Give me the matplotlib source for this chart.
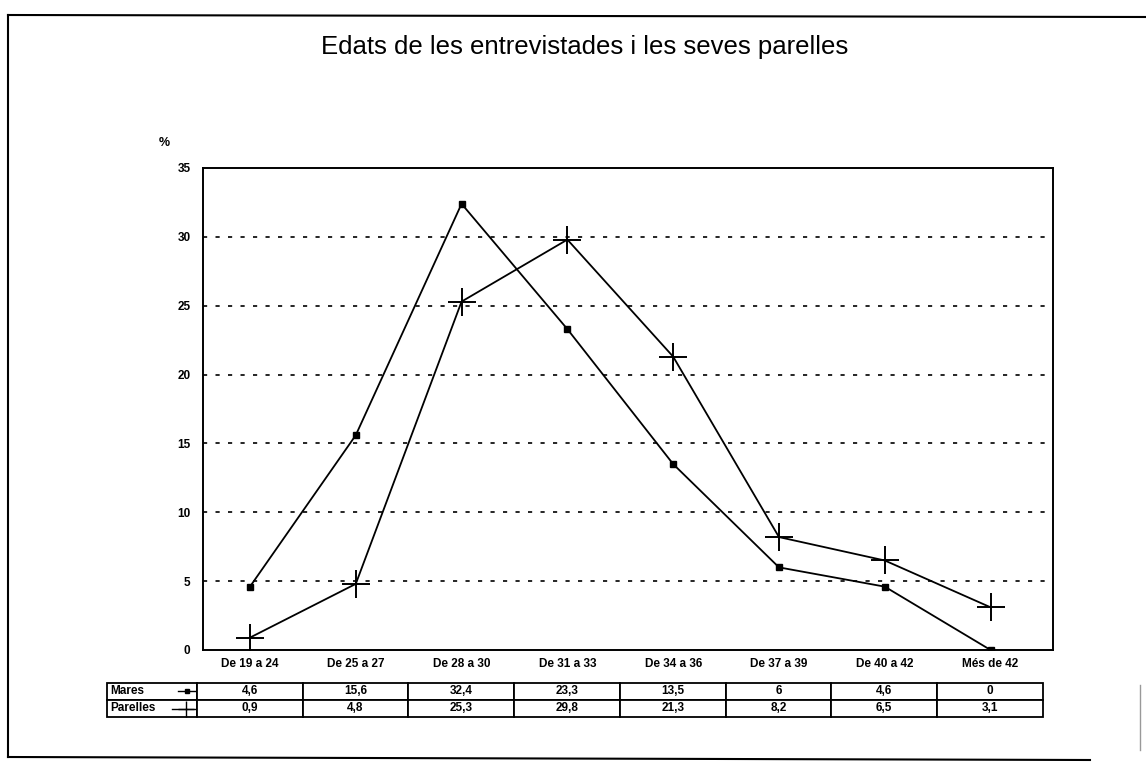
import matplotlib.pyplot as plt
import numpy as np
from matplotlib.lines import Line2D

plt.rcParams['font.family'] = ['Liberation Sans', 'DejaVu Sans']

categories = ["De 19 a 24", "De 25 a 27", "De 28 a 30", "De 31 a 33",
              "De 34 a 36", "De 37 a 39", "De 40 a 42", "Més de 42"]
mares = [4.6, 15.6, 32.4, 23.3, 13.5, 6, 4.6, 0]
parelles = [0.9, 4.8, 25.3, 29.8, 21.3, 8.2, 6.5, 3.1]
mares_txt = ["4,6", "15,6", "32,4", "23,3", "13,5", "6", "4,6", "0"]
parelles_txt = ["0,9", "4,8", "25,3", "29,8", "21,3", "8,2", "6,5", "3,1"]
yticks = [0, 5, 10, 15, 20, 25, 30, 35]

fig = plt.figure(figsize=(11.46, 7.69), dpi=100)
ax = fig.add_axes([203/1146, 1-650/769, 850/1146, 482/769])

x = np.arange(len(categories))
ax.plot(x, mares, color='black', lw=1.3, marker='s', ms=5, mfc='black')
ax.plot(x, parelles, color='black', lw=1.3, marker='+', ms=20, mew=1.4)

ax.set_xlim(-0.444, 7.59)
ax.set_ylim(0, 35)
ax.set_yticks(yticks)
ax.set_yticklabels([str(v) for v in yticks], fontsize=8.5, fontweight='bold')
ax.set_xticks(x)
ax.set_xticklabels(categories, fontsize=8.5, fontweight='bold')
ax.tick_params(length=0, pad=9)
ax.tick_params(axis='x', pad=6)
for v in yticks[1:-1]:
    ax.axhline(v, color='black', lw=1.2, ls=(0, (2.5, 5)))
for s in ax.spines.values():
    s.set_linewidth(1.4)
ax.text(-0.045, 1.045, "%", transform=ax.transAxes, fontsize=9,
        fontweight='bold', ha='center')

# data table under the chart
cell_text = [["Mares"] + mares_txt, ["Parelles"] + parelles_txt]
tbl = ax.table(cellText=cell_text, cellLoc='center',
               colWidths=[90] + [106] * len(categories),
               bbox=[-0.113, -0.139, 1.101, 0.071])
tbl.auto_set_font_size(False)
for (r, c), cell in tbl.get_celld().items():
    cell.set_linewidth(1.3)
    cell.get_text().set_fontsize(8.5)
    cell.get_text().set_fontweight('bold')
    if c == 0:
        cell.get_text().set_ha('left')
        cell._loc = 'left'
        cell.PAD = 0.04

# legend keys inside the label column
fig.lines.append(Line2D([178/1146, 195/1146], [1-691/769] * 2, color='black',
                        lw=1.0, transform=fig.transFigure))
fig.lines.append(Line2D([187/1146], [1-691/769], color='black', marker='s',
                        ms=3.5, ls='none', transform=fig.transFigure))
fig.lines.append(Line2D([172/1146, 195/1146], [1-709/769] * 2, color='black',
                        lw=1.0, transform=fig.transFigure))
fig.lines.append(Line2D([186/1146], [1-709/769], color='black', marker='+',
                        ms=12, mew=1.0, ls='none', transform=fig.transFigure))

fig.text(585/1146, 1-47/769, "Edats de les entrevistades i les seves parelles",
         fontsize=18.5, ha='center', va='center')

# scanned page frame
frame = dict(color='black', lw=1.5, transform=fig.transFigure)
fig.lines.append(Line2D([8/1146, 1], [1-15/769, 1-17/769], **frame))
fig.lines.append(Line2D([8/1146, 8/1146], [1-15/769, 1-757/769], **frame))
fig.lines.append(Line2D([8/1146, 1090/1146], [1-757/769, 1-760/769], **frame))
fig.lines.append(Line2D([1140/1146, 1140/1146], [1-685/769, 1-750/769],
                        color='0.6', lw=1.0, transform=fig.transFigure))

fig.savefig("out.png", dpi=100)
